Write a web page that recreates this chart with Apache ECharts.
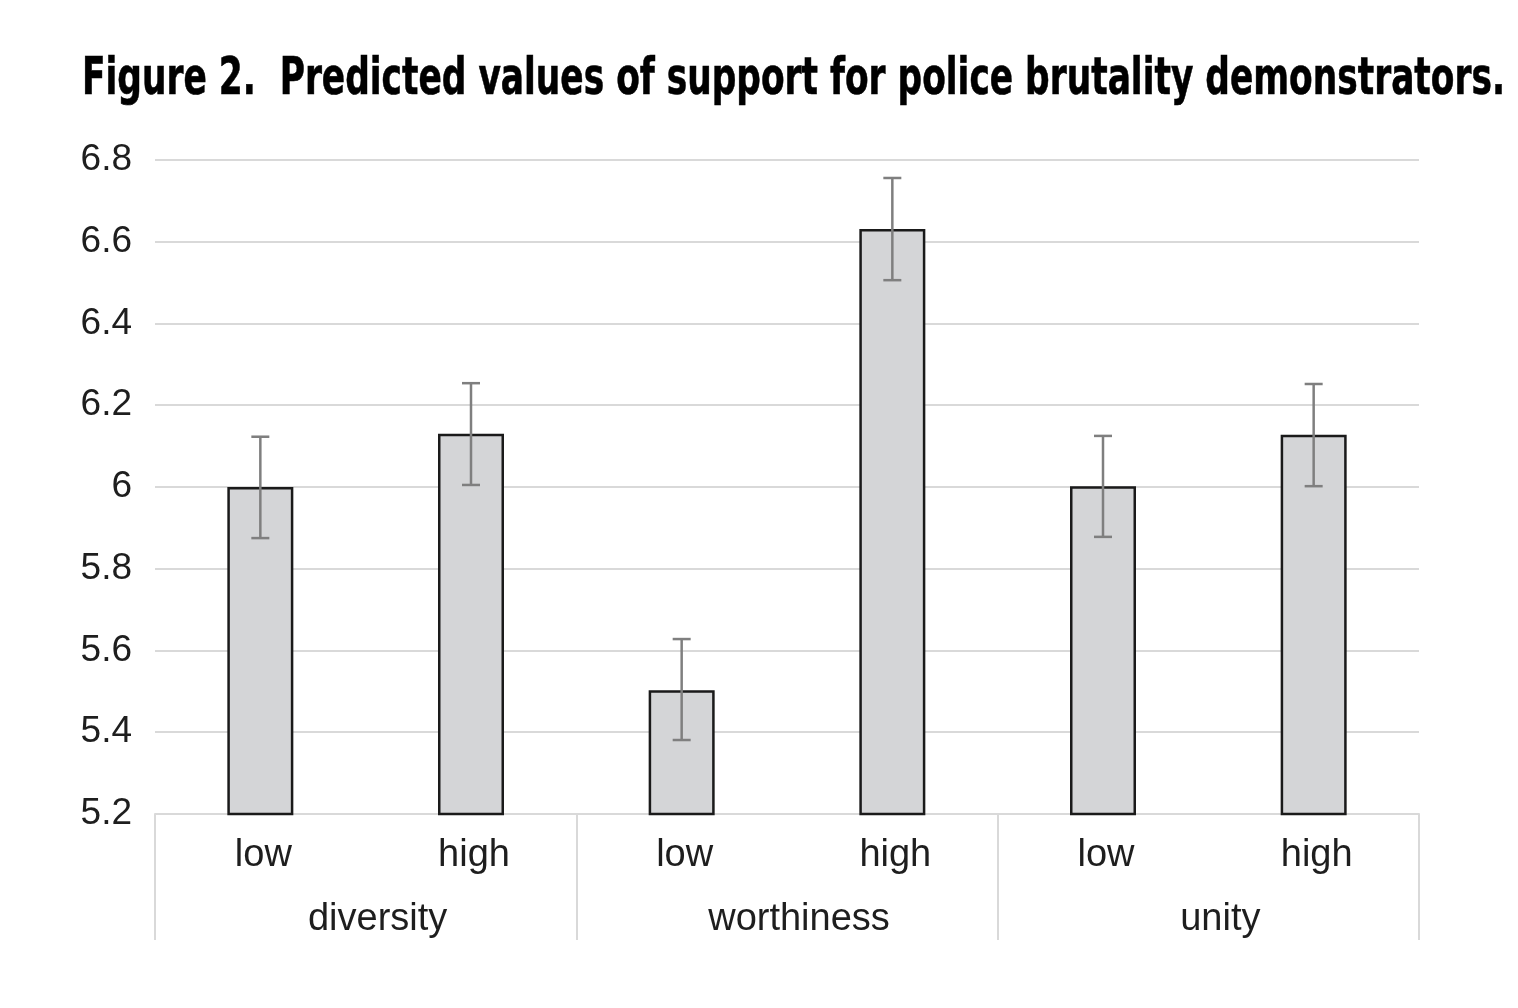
<!DOCTYPE html>
<html>
<head>
<meta charset="utf-8">
<script src="https://cdn.jsdelivr.net/npm/echarts@6/dist/echarts.min.js"></script>
<style>
  html, body { margin: 0; padding: 0; background: #fff; }
  #chart { width: 1518px; height: 1008px; }
</style>
</head>
<body>
<div id="chart"></div>
<script>
  // categories
  var levels = ['low', 'high', 'low', 'high', 'low', 'high'];
  var groups = ['diversity', 'worthiness', 'unity'];
  // predicted values and error bar ends
  var predicted = [6.0, 6.13, 5.503, 6.631, 6.002, 6.128];
  var lower = [5.875, 6.005, 5.381, 6.506, 5.878, 6.002];
  var upper = [6.123, 6.254, 5.628, 6.756, 6.125, 6.252];

  var titleText = 'Figure 2.  Predicted values of support for police brutality demonstrators.';
  var titleFont = 'bold 52px "DejaVu Sans Condensed", "Liberation Sans", sans-serif';

  // squeeze the title to the width it takes in the figure (condensed face)
  var ctx = document.createElement('canvas').getContext('2d');
  ctx.font = titleFont;
  var titleScale = 1423 / ctx.measureText(titleText).width;

  var chart = echarts.init(document.getElementById('chart'));

  var errData = levels.map(function (l, i) { return [i, lower[i], upper[i]]; });

  var option = {
    animation: false,
    graphic: [{
      type: 'text',
      x: 82,
      y: 80,
      scaleX: titleScale,
      style: {
        text: titleText,
        font: titleFont,
        fill: '#000',
        stroke: '#000',
        lineWidth: 0.6,
        verticalAlign: 'middle'
      }
    }],
    grid: { left: 155, right: 99, top: 160, bottom: 194 },
    xAxis: [
      {
        type: 'category',
        data: levels,
        axisLine: { lineStyle: { color: '#d9d9d9', width: 2 } },
        axisTick: { show: false },
        axisLabel: {
          margin: 23,
          fontSize: 38,
          fontFamily: '"Liberation Sans", Arial, sans-serif',
          color: '#1e1e1e',
          padding: [0, 0, 0, 6]
        }
      },
      {
        type: 'category',
        data: groups,
        position: 'bottom',
        axisLine: { show: false },
        axisTick: { show: true, length: 126, lineStyle: { color: '#d9d9d9', width: 2 } },
        axisLabel: {
          margin: 87,
          fontSize: 38,
          fontFamily: '"Liberation Sans", Arial, sans-serif',
          color: '#1e1e1e',
          padding: [0, 0, 0, 24]
        }
      }
    ],
    yAxis: {
      type: 'value',
      min: 5.2,
      max: 6.8,
      interval: 0.2,
      axisLine: { show: false },
      axisTick: { show: false },
      splitLine: { lineStyle: { color: '#d9d9d9', width: 2 } },
      axisLabel: {
        margin: 23,
        fontSize: 37,
        fontFamily: '"Liberation Sans", Arial, sans-serif',
        color: '#1e1e1e',
        formatter: function (v) { return String(+v.toFixed(1)); }
      }
    },
    series: [
      {
        type: 'bar',
        data: predicted,
        barWidth: 66,
        itemStyle: { color: '#d4d5d7', borderColor: '#1a1a1a', borderWidth: 2.5 }
      },
      {
        type: 'custom',
        data: errData,
        z: 10,
        renderItem: function (params, api) {
          var lo = api.coord([api.value(0), api.value(1)]);
          var hi = api.coord([api.value(0), api.value(2)]);
          var hw = 9;
          var style = { stroke: '#7f7f7f', lineWidth: 2.5 };
          return {
            type: 'group',
            children: [
              { type: 'line', shape: { x1: hi[0], y1: hi[1], x2: lo[0], y2: lo[1] }, style: style },
              { type: 'line', shape: { x1: hi[0] - hw, y1: hi[1], x2: hi[0] + hw, y2: hi[1] }, style: style },
              { type: 'line', shape: { x1: lo[0] - hw, y1: lo[1], x2: lo[0] + hw, y2: lo[1] }, style: style }
            ]
          };
        }
      }
    ]
  };

  chart.setOption(option);
</script>
</body>
</html>
